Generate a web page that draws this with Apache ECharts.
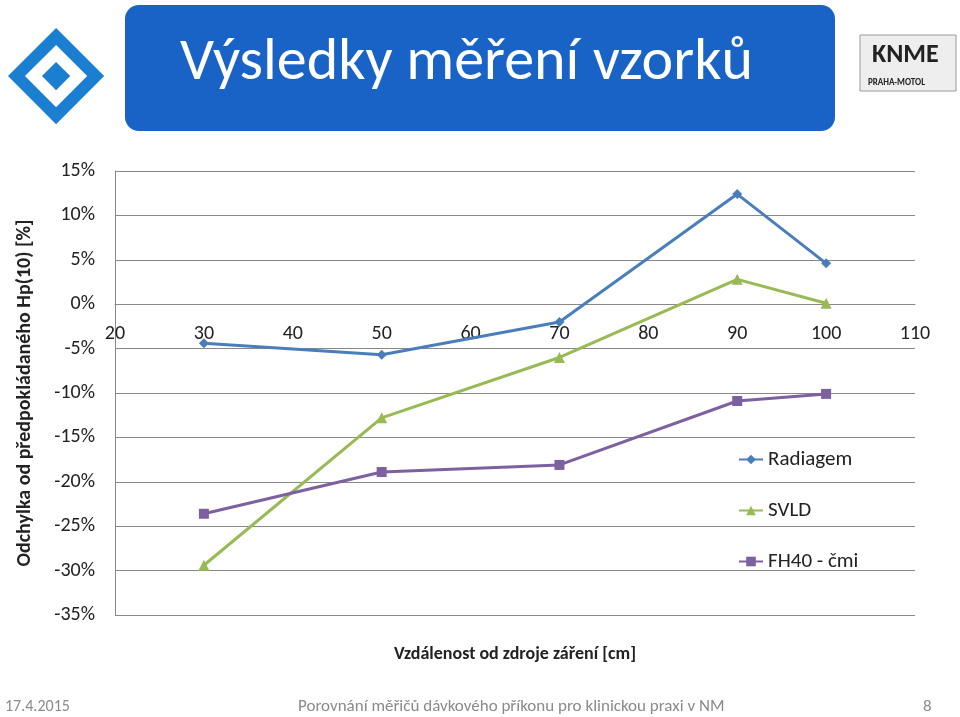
<!DOCTYPE html>
<html><head><meta charset="utf-8">
<script src="https://cdn.jsdelivr.net/npm/echarts@6/dist/echarts.min.js"></script>
<style>html,body{margin:0;padding:0;background:#fff}#c{width:960px;height:717px}</style>
</head><body><div id="c"></div>
<script>
const xValues = [30, 50, 70, 90, 100];
const radiagem = [-4.4, -5.7, -2.0, 12.4, 4.6];
const svld = [-29.4, -12.8, -6.0, 2.8, 0.1];
const fh40 = [-23.6, -18.9, -18.1, -10.9, -10.1];
const seriesNames = ['Radiagem', 'SVLD', 'FH40 - čmi'];
const pair = a => xValues.map((x, i) => [x, a[i]]);
const font = 'Calibri, Carlito, "Liberation Sans", "Open Sans", sans-serif';
const chart = echarts.init(document.getElementById('c'));
chart.setOption({
  animation: false,
  textStyle: { fontFamily: font },
  grid: { left: 115, right: 45, top: 171, bottom: 102 },
  xAxis: {
    type: 'value', min: 20, max: 110, interval: 10, offset: -311,
    axisLine: { onZero: false, lineStyle: { color: '#888' } },
    axisTick: { show: false },
    splitLine: { show: false },
    axisLabel: { fontSize: 20, color: '#222', margin: 20, fontFamily: font },
    name: 'Vzdálenost od zdroje záření [cm]', nameLocation: 'middle', nameGap: 341,
    nameTextStyle: { fontSize: 18, fontWeight: 'bold', color: '#222', fontFamily: font }
  },
  yAxis: {
    type: 'value', min: -35, max: 15, interval: 5,
    axisLine: { show: true, lineStyle: { color: '#888' } },
    axisTick: { show: false },
    splitLine: { lineStyle: { color: '#888' } },
    axisLabel: { formatter: '{value}%', fontSize: 20, color: '#222', margin: 20, fontFamily: font },
    name: 'Odchylka od předpokládaného Hp(10) [%]', nameLocation: 'middle', nameGap: 80,
    nameTextStyle: { fontSize: 20, fontWeight: 'bold', color: '#222', fontFamily: font }
  },
  legend: {
    orient: 'vertical', left: 733, top: 444, itemGap: 30, itemWidth: 24, itemHeight: 12,
    textStyle: { fontSize: 21, color: '#222', fontFamily: font },
    data: seriesNames
  },
  series: [
    { name: seriesNames[0], type: 'line', data: pair(radiagem), symbol: 'diamond', symbolSize: 10,
      itemStyle: { color: '#4a7ebb' }, lineStyle: { width: 3, color: '#4a7ebb' } },
    { name: seriesNames[1], type: 'line', data: pair(svld), symbol: 'triangle', symbolSize: 11,
      itemStyle: { color: '#98b954' }, lineStyle: { width: 3, color: '#98b954' } },
    { name: seriesNames[2], type: 'line', data: pair(fh40), symbol: 'rect', symbolSize: 10,
      itemStyle: { color: '#7d60a0' }, lineStyle: { width: 3, color: '#7d60a0' } }
  ],
  graphic: [
    { type: 'rect', shape: { x: 125, y: 5, width: 710, height: 126, r: 14 }, style: { fill: '#1a63c6' } },
    { type: 'text', left: 180, top: 34, style: { text: 'Výsledky měření vzorků', fill: '#fff', font: '60px ' + font } },
    { type: 'group', left: 8, top: 28, children: [
      { type: 'rect', shape: { x: 0, y: 0, width: 56, height: 56 }, rotation: Math.PI/4, originX: 28, originY: 28,
        style: { fill: 'none', stroke: '#1a7fd0', lineWidth: 12 } },
      { type: 'rect', shape: { x: 18, y: 18, width: 20, height: 20 }, rotation: Math.PI/4, originX: 28, originY: 28,
        style: { fill: '#1a7fd0' } }
    ]},
    { type: 'rect', shape: { x: 860, y: 35, width: 96, height: 56 }, style: { fill: '#eee', stroke: '#999' } },
    { type: 'text', left: 872, top: 42, style: { text: 'KNME', fill: '#222', font: 'bold 26px ' + font } },
    { type: 'text', left: 868, top: 78, style: { text: 'PRAHA-MOTOL', fill: '#222', font: 'bold 9px ' + font } },
    { type: 'text', left: 5, top: 699, style: { text: '17.4.2015', fill: '#8a8a8a', font: '16px ' + font } },
    { type: 'text', left: 298, top: 698, style: { text: 'Porovnání měřičů dávkového příkonu pro klinickou praxi v NM', fill: '#8a8a8a', font: '17px ' + font } },
    { type: 'text', left: 923, top: 698, style: { text: '8', fill: '#8a8a8a', font: '17px ' + font } }
  ]
});
</script></body></html>
